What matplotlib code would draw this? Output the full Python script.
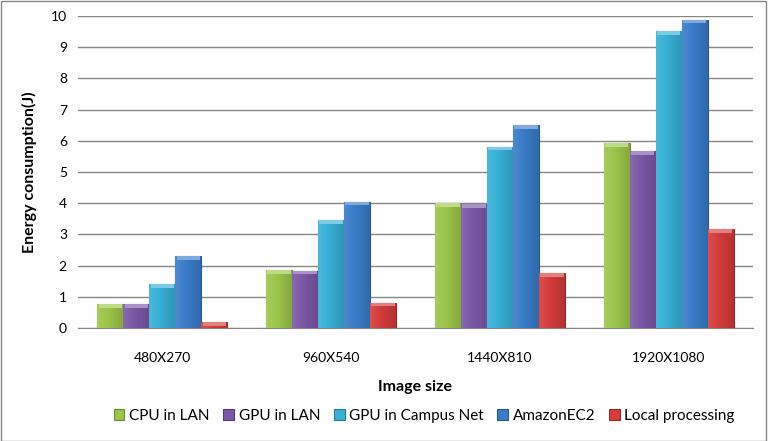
import numpy as np
import matplotlib.pyplot as plt
from matplotlib.patches import Rectangle
from matplotlib.colors import to_rgb

plt.rcParams['font.family'] = ['Lato', 'DejaVu Sans']

sizes = ["480X270", "960X540", "1440X810", "1920X1080"]
cpu_lan = [0.77, 1.86, 4.01, 5.93]
gpu_lan = [0.77, 1.84, 3.96, 5.68]
gpu_campus = [1.41, 3.46, 5.81, 9.52]
amazon = [2.31, 4.05, 6.51, 9.88]
local = [0.19, 0.81, 1.76, 3.18]

series = [
    ("CPU in LAN", cpu_lan, "#9cc64a"),
    ("GPU in LAN", gpu_lan, "#7b58a6"),
    ("GPU in Campus Net", gpu_campus, "#37b0d6"),
    ("AmazonEC2", amazon, "#3a7cc8"),
    ("Local processing", local, "#d33c3a"),
]

fig = plt.figure(figsize=(7.68, 4.41), dpi=100)
ax = fig.add_axes([78 / 768, 1 - 328 / 441, 675 / 768, 312 / 441])

x = np.arange(len(sizes))
w = 0.154


def shade(c, f):
    r = np.array(to_rgb(c))
    if f < 1:
        return tuple(r * f)
    return tuple(r + (1 - r) * (f - 1))


for i, (name, vals, col) in enumerate(series):
    pos = x + (i - 2) * w
    bars = ax.bar(pos, vals, w, color=col, edgecolor=shade(col, 0.7),
                  linewidth=0.8, label=name, zorder=3)
    # gradient across each bar
    for b in bars:
        x0, y0 = b.get_x(), b.get_y()
        bw, bh = b.get_width(), b.get_height()
        g = np.linspace(0, 1, 50)
        prof = 1.1 - 0.25 * g
        img = np.array([[shade(col, p) for p in prof]] * 2)
        img = np.clip(img, 0, 1)
        im = ax.imshow(img, extent=(x0, x0 + bw, y0, y0 + bh), aspect='auto',
                       zorder=3.5, interpolation='bilinear')
        im.set_clip_path(b)
        cap = Rectangle((x0 + bw * 0.05, y0 + bh - 0.12), bw * 0.9, 0.12,
                        facecolor=shade(col, 1.35), edgecolor='none', zorder=4)
        ax.add_patch(cap)

ax.set_xlim(-0.5, 3.5)
ax.set_ylim(0, 10)
ax.set_yticks(range(0, 11))
ax.set_xticks(x)
ax.set_xticklabels(sizes)
ax.tick_params(axis='y', labelsize=10, length=0, pad=8)
ax.tick_params(axis='x', labelsize=10, length=0, pad=17)
ax.grid(axis='y', color='#868686', linewidth=1, zorder=0)
for s in ['top', 'right', 'left']:
    ax.spines[s].set_visible(False)
ax.spines['bottom'].set_color('#868686')
ax.set_xlabel("Image size", fontsize=11.5, fontweight='bold', labelpad=12)
ax.set_ylabel("Energy consumption(J)", fontsize=11.5, fontweight='bold', labelpad=10)

ax.legend(loc='upper center', bbox_to_anchor=(0.513, -0.215), ncol=5,
          frameon=False, fontsize=11, handlelength=0.7, handleheight=0.7,
          handletextpad=0.3, columnspacing=0.9)

border = Rectangle((0.001, 0.001), 0.997, 0.997, transform=fig.transFigure,
                   facecolor='none', edgecolor='#868686', linewidth=1)
fig.patches.append(border)

fig.savefig("out.png", dpi=100)
